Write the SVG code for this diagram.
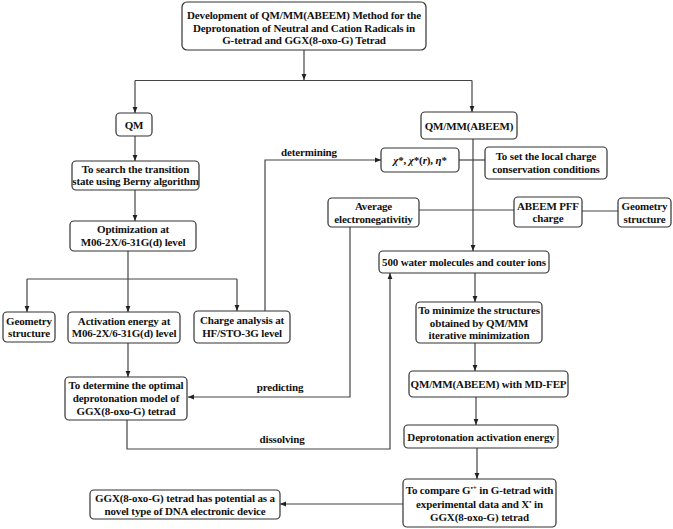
<svg xmlns="http://www.w3.org/2000/svg" width="673" height="529" viewBox="0 0 673 529">
<defs>
<marker id="arr" viewBox="0 0 10 10" refX="10" refY="5" markerWidth="6" markerHeight="6" markerUnits="userSpaceOnUse" orient="auto">
<path d="M0,1 L10,5 L0,9 z" fill="#222"/>
</marker>
<style>
.b{fill:#fff;stroke:#333;stroke-width:1.2}
.t{font-weight:bold;font-size:11px;letter-spacing:-0.15px;fill:#111;text-anchor:middle}
.c{fill:none;stroke:#444;stroke-width:1.2}
.a{fill:none;stroke:#444;stroke-width:1.2;marker-end:url(#arr)}
</style>
</defs>
<rect width="673" height="529" fill="#fff"/>
<g id="connectors">
<path class="a" d="M304,50 V80"/>
<path class="c" d="M135,80.5 H472"/>
<path class="a" d="M135,80.5 V113"/>
<path class="a" d="M472,80.5 V112"/>
<path class="a" d="M135,136 V161"/>
<path class="a" d="M135,190 V221"/>
<path class="c" d="M128,251 V279"/>
<path class="c" d="M27,279 H237"/>
<path class="a" d="M27,279 V312"/>
<path class="a" d="M128,279 V312"/>
<path class="a" d="M237,279 V311"/>
<path class="a" d="M128,343 V377"/>
<path class="a" d="M265,311 V160 H381"/>
<path class="a" d="M473,139 V251"/>
<path class="c" d="M459,160 H485"/>
<path class="c" d="M419,210 H514"/>
<path class="c" d="M582,211 H618"/>
<path class="a" d="M350,227 V397 H188"/>
<path class="a" d="M127,420 V449 H390 V273"/>
<path class="a" d="M475,273 V302"/>
<path class="a" d="M475,343 V371"/>
<path class="a" d="M476,397 V425"/>
<path class="a" d="M477,448 V479"/>
<path class="a" d="M403,504 H280"/>
</g>
<g font-family="'Liberation Serif', 'DejaVu Serif', serif">
<g id="labels">
<text class="t" x="309" y="156">determining</text>
<text class="t" x="280" y="391">predicting</text>
<text class="t" x="282" y="443">dissolving</text>
</g>
<g id="title"><rect class="b" x="182" y="2" width="244" height="48" rx="5"/>
<text class="t" x="304" y="19">Development of QM/MM(ABEEM) Method for the</text>
<text class="t" x="304" y="31.5">Deprotonation of Neutral and Cation Radicals in</text>
<text class="t" x="304" y="44">G-tetrad and GGX(8-oxo-G) Tetrad</text></g>
<g id="qm"><rect class="b" x="116" y="113" width="36" height="23" rx="4"/>
<text class="t" x="134" y="128.5">QM</text></g>
<g id="berny"><rect class="b" x="72" y="161" width="127" height="29" rx="4"/>
<text class="t" x="135.5" y="173">To search the transition</text>
<text class="t" x="135.5" y="185">state using Berny algorithm</text></g>
<g id="opt"><rect class="b" x="70" y="221" width="126" height="30" rx="4"/>
<text class="t" x="133" y="233">Optimization at</text>
<text class="t" x="133" y="245.5">M06-2X/6-31G(d) level</text></g>
<g id="geom1"><rect class="b" x="3" y="312" width="52" height="30" rx="4"/>
<text class="t" x="29" y="324.5">Geometry</text>
<text class="t" x="29" y="337">structure</text></g>
<g id="act"><rect class="b" x="68" y="312" width="112" height="31" rx="4"/>
<text class="t" x="124" y="324.5">Activation energy at</text>
<text class="t" x="124" y="337">M06-2X/6-31G(d) level</text></g>
<g id="charge"><rect class="b" x="194" y="311" width="96" height="32" rx="4"/>
<text class="t" x="242" y="324">Charge analysis at</text>
<text class="t" x="242" y="336.5">HF/STO-3G level</text></g>
<g id="determine"><rect class="b" x="65" y="377" width="122" height="43" rx="4"/>
<text class="t" x="126" y="389">To determine the optimal</text>
<text class="t" x="126" y="402">deprotonation model of</text>
<text class="t" x="126" y="415">GGX(8-oxo-G) tetrad</text></g>
<g id="qmmm"><rect class="b" x="421" y="112" width="96" height="27" rx="4"/>
<text class="t" x="469" y="129.5">QM/MM(ABEEM)</text></g>
<g id="chi"><rect class="b" x="381" y="148" width="78" height="24" rx="4"/>
<text class="t" x="420" y="164"><tspan font-style="italic">χ</tspan>*, <tspan font-style="italic">χ</tspan>*(<tspan font-style="italic">r</tspan>), <tspan font-style="italic">η</tspan>*</text></g>
<g id="local"><rect class="b" x="485" y="147" width="122" height="32" rx="4"/>
<text class="t" x="546" y="160">To set the local charge</text>
<text class="t" x="546" y="172.5">conservation conditions</text></g>
<g id="avg"><rect class="b" x="328" y="198" width="91" height="29" rx="4"/>
<text class="t" x="373.5" y="210">Average</text>
<text class="t" x="373.5" y="222.5">electronegativitiy</text></g>
<g id="abeem"><rect class="b" x="514" y="197" width="68" height="30" rx="4"/>
<text class="t" x="548" y="209.5">ABEEM PFF</text>
<text class="t" x="548" y="222">charge</text></g>
<g id="geom2"><rect class="b" x="618" y="198" width="53" height="29" rx="4"/>
<text class="t" x="644.5" y="210">Geometry</text>
<text class="t" x="644.5" y="222.5">structure</text></g>
<g id="water"><rect class="b" x="379" y="251" width="170" height="22" rx="4"/>
<text class="t" x="464" y="266">500 water molecules and couter ions</text></g>
<g id="minimize"><rect class="b" x="416" y="302" width="126" height="41" rx="4"/>
<text class="t" x="479" y="314">To minimize the structures</text>
<text class="t" x="479" y="326.5">obtained by QM/MM</text>
<text class="t" x="479" y="339">iterative minimization</text></g>
<g id="mdfep"><rect class="b" x="409" y="371" width="159" height="26" rx="4"/>
<text class="t" x="488.5" y="388">QM/MM(ABEEM) with MD-FEP</text></g>
<g id="deprot"><rect class="b" x="404" y="425" width="154" height="23" rx="4"/>
<text class="t" x="481" y="440.5">Deprotonation activation energy</text></g>
<g id="compare"><rect class="b" x="403" y="479" width="153" height="48" rx="4"/>
<text class="t" x="479.5" y="494">To compare G<tspan font-size="7" dy="-4">•+</tspan><tspan dy="4"> in G-tetrad with</tspan></text>
<text class="t" x="479.5" y="507.5">experimental data  and X<tspan font-size="7" dy="-4">•</tspan><tspan dy="4"> in</tspan></text>
<text class="t" x="479.5" y="521">GGX(8-oxo-G) tetrad</text></g>
<g id="potential"><rect class="b" x="90" y="490" width="190" height="29" rx="4"/>
<text class="t" x="185" y="502">GGX(8-oxo-G) tetrad has potential as a</text>
<text class="t" x="185" y="514.5">novel type of DNA electronic device</text></g>
</g>
</svg>
